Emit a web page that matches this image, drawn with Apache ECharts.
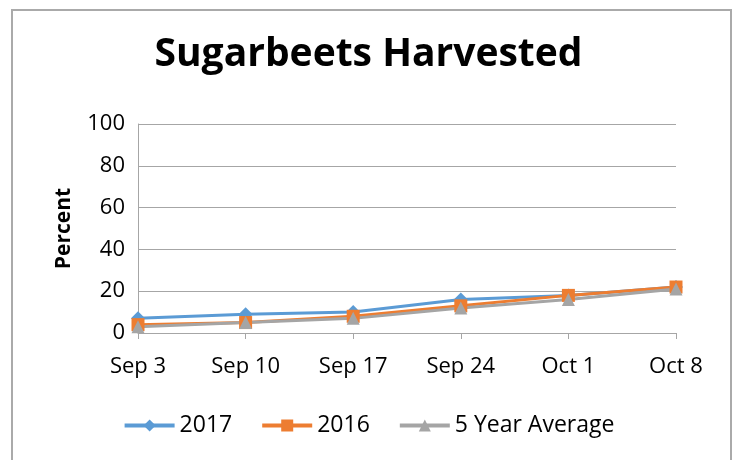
<!DOCTYPE html>
<html>
<head>
<meta charset="utf-8">
<script src="https://cdn.jsdelivr.net/npm/echarts@6/dist/echarts.min.js"></script>
<style>
  html, body { margin: 0; padding: 0; background: #fff; }
  #chart { width: 737px; height: 460px; }
</style>
</head>
<body>
<div id="chart"></div>
<script>
const weeks = ['Sep 3', 'Sep 10', 'Sep 17', 'Sep 24', 'Oct 1', 'Oct 8'];
const y2017 = [7, 9, 10, 16, 18, 22];
const y2016 = [4, 5, 8, 13, 18, 22];
const fiveYearAvg = [3, 5, 7, 12, 16, 21];

const font = 'Open Sans';
const chart = echarts.init(document.getElementById('chart'));

chart.setOption({
  animation: false,
  title: {
    text: 'Sugarbeets Harvested',
    left: 'center',
    top: 30,
    textStyle: { fontFamily: font, fontWeight: 'bold', fontSize: 39, color: '#000' }
  },
  legend: {
    top: 409,
    left: 'center',
    itemWidth: 50,
    itemHeight: 15,
    itemGap: 28,
    lineStyle: { width: 4 },
    textStyle: { fontFamily: font, fontSize: 23, color: '#000' },
    data: ['2017', '2016', '5 Year Average']
  },
  graphic: [{
    type: 'rect',
    shape: { x: 12, y: 10, width: 719, height: 460 },
    style: { fill: 'none', stroke: '#aaaaaa', lineWidth: 2 },
    silent: true
  }],
  grid: { left: 138, right: 61, top: 124, bottom: 127 },
  xAxis: {
    type: 'category',
    data: weeks,
    boundaryGap: false,
    axisLine: { lineStyle: { color: '#a6a6a6', width: 1 } },
    axisTick: { show: true, length: 6, lineStyle: { color: '#a6a6a6' } },
    axisLabel: { fontFamily: font, fontSize: 22, color: '#000', margin: 23 }
  },
  yAxis: {
    type: 'value',
    min: 0,
    max: 100,
    interval: 20,
    name: 'Percent',
    nameLocation: 'middle',
    nameGap: 63,
    nameTextStyle: { fontFamily: font, fontWeight: 'bold', fontSize: 21, color: '#000' },
    axisLine: { show: true, lineStyle: { color: '#a6a6a6' } },
    axisTick: { show: false },
    splitLine: { lineStyle: { color: '#a6a6a6' } },
    axisLabel: { fontFamily: font, fontSize: 22, color: '#000', margin: 13 }
  },
  series: [
    {
      name: '2017',
      type: 'line',
      data: y2017,
      color: '#5B9BD5',
      symbol: 'diamond',
      symbolSize: 14,
      lineStyle: { width: 3 }
    },
    {
      name: '2016',
      type: 'line',
      data: y2016,
      color: '#ED7D31',
      symbol: 'rect',
      symbolSize: 13,
      lineStyle: { width: 3 }
    },
    {
      name: '5 Year Average',
      type: 'line',
      data: fiveYearAvg,
      color: '#A5A5A5',
      symbol: 'triangle',
      symbolSize: 13,
      lineStyle: { width: 3 }
    }
  ]
});
</script>
</body>
</html>
